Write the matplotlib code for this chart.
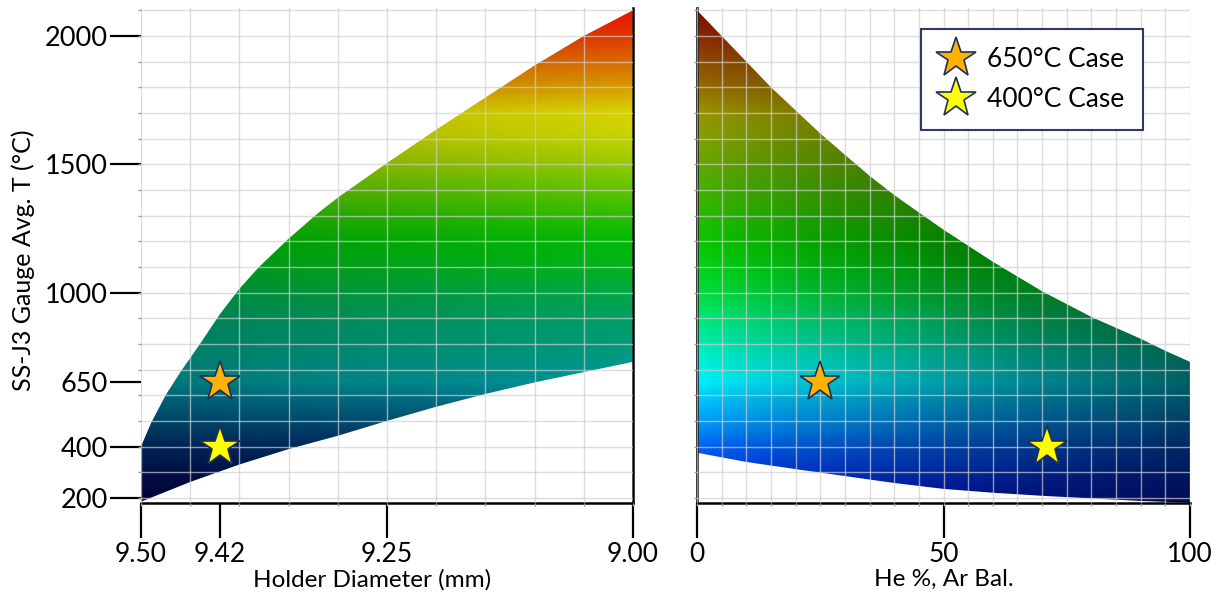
import numpy as np
import matplotlib
matplotlib.use("Agg")
import matplotlib.pyplot as plt
from matplotlib.patches import Polygon
from matplotlib.ticker import MultipleLocator

plt.rcParams['font.family'] = ['Lato', 'DejaVu Sans']

# === Data ===
# left panel: holder diameter (mm) vs gauge temperature (C)
diam_up = [9.50, 9.49, 9.475, 9.46, 9.44, 9.42, 9.40, 9.38, 9.35, 9.32, 9.30, 9.25, 9.20, 9.15, 9.10, 9.05, 9.00]
temp_up = [400, 490, 600, 690, 800, 915, 1015, 1100, 1210, 1310, 1370, 1505, 1635, 1760, 1885, 2000, 2100]
diam_lo = [9.50, 9.45, 9.40, 9.35, 9.30, 9.25, 9.20, 9.15, 9.10, 9.05, 9.00]
temp_lo = [185, 262, 330, 390, 442, 500, 555, 605, 650, 690, 730]

# right panel: He fraction (%) vs gauge temperature (C)
he_up = [0, 5, 10, 15, 20, 25, 30, 35, 40, 45, 50, 60, 70, 80, 90, 95, 100]
he_temp_up = [2100, 2000, 1900, 1800, 1710, 1620, 1537, 1455, 1380, 1312, 1245, 1120, 1005, 905, 820, 773, 730]
he_lo = [0, 10, 20, 30, 40, 50, 60, 70, 80, 90, 100]
he_temp_lo = [376, 340, 312, 285, 258, 235, 220, 208, 198, 188, 181]

# design cases
case_labels = ["650°C Case", "400°C Case"]
case_temps = [650, 400]
case_diam = [9.42, 9.42]
case_he = [25, 71]
case_colors = ["#FFB300", "#FFFF00"]

y_ticks = [200, 400, 650, 1000, 1500, 2000]
diam_ticks = [9.50, 9.42, 9.25, 9.00]
he_ticks = [0, 50, 100]

# colour stops (temperature -> rgb)
left_stops_t = [150, 200, 300, 400, 500, 600, 650, 700, 800, 900, 1000, 1100, 1200, 1300, 1400, 1500, 1600, 1700, 1800, 1900, 2000, 2120]
left_stops_rgb = [(0, 0, 62), (0, 5, 70), (0, 20, 85), (0, 45, 105), (0, 85, 125), (0, 125, 145), (0, 148, 152), (0, 152, 142),
                  (0, 155, 122), (0, 160, 100), (0, 168, 68), (0, 180, 28), (0, 186, 6), (45, 190, 0), (95, 196, 0), (150, 202, 0),
                  (195, 212, 0), (218, 212, 0), (216, 155, 0), (218, 105, 0), (226, 55, 0), (234, 10, 0)]
right_stops_t = [150, 200, 300, 400, 500, 600, 650, 700, 800, 900, 1000, 1100, 1200, 1300, 1400, 1500, 1600, 1700, 1800, 1900, 2000, 2120]
right_stops_rgb = [(0, 20, 215), (0, 30, 220), (0, 60, 235), (0, 100, 250), (0, 160, 255), (0, 210, 255), (0, 240, 255), (0, 245, 235),
                   (0, 240, 180), (0, 235, 120), (0, 225, 60), (0, 215, 20), (10, 200, 0), (40, 190, 0), (70, 180, 0), (100, 170, 0),
                   (130, 165, 0), (155, 150, 0), (150, 110, 0), (145, 75, 0), (140, 40, 0), (115, 8, 0)]

YMIN, YMAX = 180, 2110


def shaded_region(ax, x_up, t_up, x_lo, t_lo, stops_t, stops_rgb, xlim, shade):
    xs = np.linspace(xlim[0], xlim[1], 500)
    ts = np.linspace(YMIN, YMAX, 600)
    rgb = np.array(stops_rgb) / 255.0
    base = np.stack([np.interp(ts, stops_t, rgb[:, k]) for k in range(3)], axis=1)
    img = base[:, None, :] * shade(xs)[None, :, None]
    im = ax.imshow(np.clip(img, 0, 1), extent=(xlim[0], xlim[1], YMIN, YMAX), origin='lower',
                   aspect='auto', interpolation='bilinear', zorder=1)
    verts = np.column_stack([np.r_[x_up, x_lo[::-1]], np.r_[t_up, t_lo[::-1]]])
    poly = Polygon(verts, closed=True, facecolor='none', edgecolor='none')
    ax.add_patch(poly)
    im.set_clip_path(poly)


def style_axis(ax):
    ax.set_axisbelow(False)
    ax.yaxis.set_minor_locator(MultipleLocator(100))
    ax.xaxis.remove_overlapping_locs = False
    ax.yaxis.remove_overlapping_locs = False
    ax.grid(which='minor', color='#cfcfcf', lw=1.0, alpha=0.7)
    ax.grid(which='major', visible=False)
    ax.tick_params(which='minor', length=2.5, width=1, color='#999999')
    ax.tick_params(axis='x', which='major', length=25, width=1.6, labelsize=19, pad=3)
    ax.set_ylim(YMIN, YMAX)


fig = plt.figure(figsize=(12.16, 6.0), dpi=100)
ax1 = fig.add_axes([141 / 1216, 97 / 600, 492 / 1216, 495.3 / 600])
ax2 = fig.add_axes([697 / 1216, 97 / 600, 493 / 1216, 495.3 / 600])

# === Left panel ===
shaded_region(ax1, diam_up, temp_up, diam_lo, temp_lo, left_stops_t, left_stops_rgb, (9.5, 9.0),
              lambda x: 0.8 + 0.2 * np.clip((9.5 - x) / 0.5, 0, 1))
ax1.set_xlim(9.5, 9.0)
ax1.xaxis.set_minor_locator(MultipleLocator(0.05))
style_axis(ax1)
ax1.set_xticks(diam_ticks)
ax1.set_xticklabels([f"{d:.2f}" for d in diam_ticks])
ax1.set_yticks(y_ticks)
ax1.tick_params(axis='y', which='major', length=22, width=1.6, labelsize=19.5, pad=2)
ax1.spines['left'].set_visible(False)
ax1.spines['top'].set_visible(False)
for s in ['right', 'bottom']:
    ax1.spines[s].set_linewidth(1.8)
ax1.set_xlabel("Holder Diameter (mm)", fontsize=17.5)
ax1.xaxis.set_label_coords(0.47, -0.133)
ax1.set_ylabel("SS-J3 Gauge Avg. T (°C)", fontsize=18)
ax1.yaxis.set_label_coords(-0.215, 0.49)
for t, d, c in zip(case_temps, case_diam, case_colors):
    ax1.plot(d, t, ls='none', marker='*', ms=30, mfc=c, mec='#1F2F5A', mew=1.2, zorder=5)

# === Right panel ===
shaded_region(ax2, he_up, he_temp_up, he_lo, he_temp_lo, right_stops_t, right_stops_rgb, (0, 100),
              lambda x: 1 - 0.6 * (np.clip(x, 0, 100) / 100) ** 0.8)
ax2.set_xlim(0, 100)
ax2.xaxis.set_minor_locator(MultipleLocator(5))
style_axis(ax2)
ax2.set_xticks(he_ticks)
ax2.set_yticks([])
ax2.spines['right'].set_visible(False)
ax2.spines['top'].set_visible(False)
for s in ['left', 'bottom']:
    ax2.spines[s].set_linewidth(1.8)
ax2.set_xlabel("He %, Ar Bal.", fontsize=17.5)
ax2.xaxis.set_label_coords(0.5, -0.133)
for lab, t, h, c in zip(case_labels, case_temps, case_he, case_colors):
    ax2.plot(h, t, ls='none', marker='*', ms=30, mfc=c, mec='#1F2F5A', mew=1.2, zorder=5, label=lab)

leg = ax2.legend(loc='upper left', bbox_to_anchor=(0.454, 0.957), borderaxespad=0, fontsize=19, frameon=True,
                 fancybox=False, framealpha=1, edgecolor='#2B3A67', borderpad=0.7, labelspacing=0.55,
                 handletextpad=0.5, handlelength=1.3, markerscale=1.0)
leg.get_frame().set_linewidth(1.5)

fig.savefig("out.png", dpi=100)
